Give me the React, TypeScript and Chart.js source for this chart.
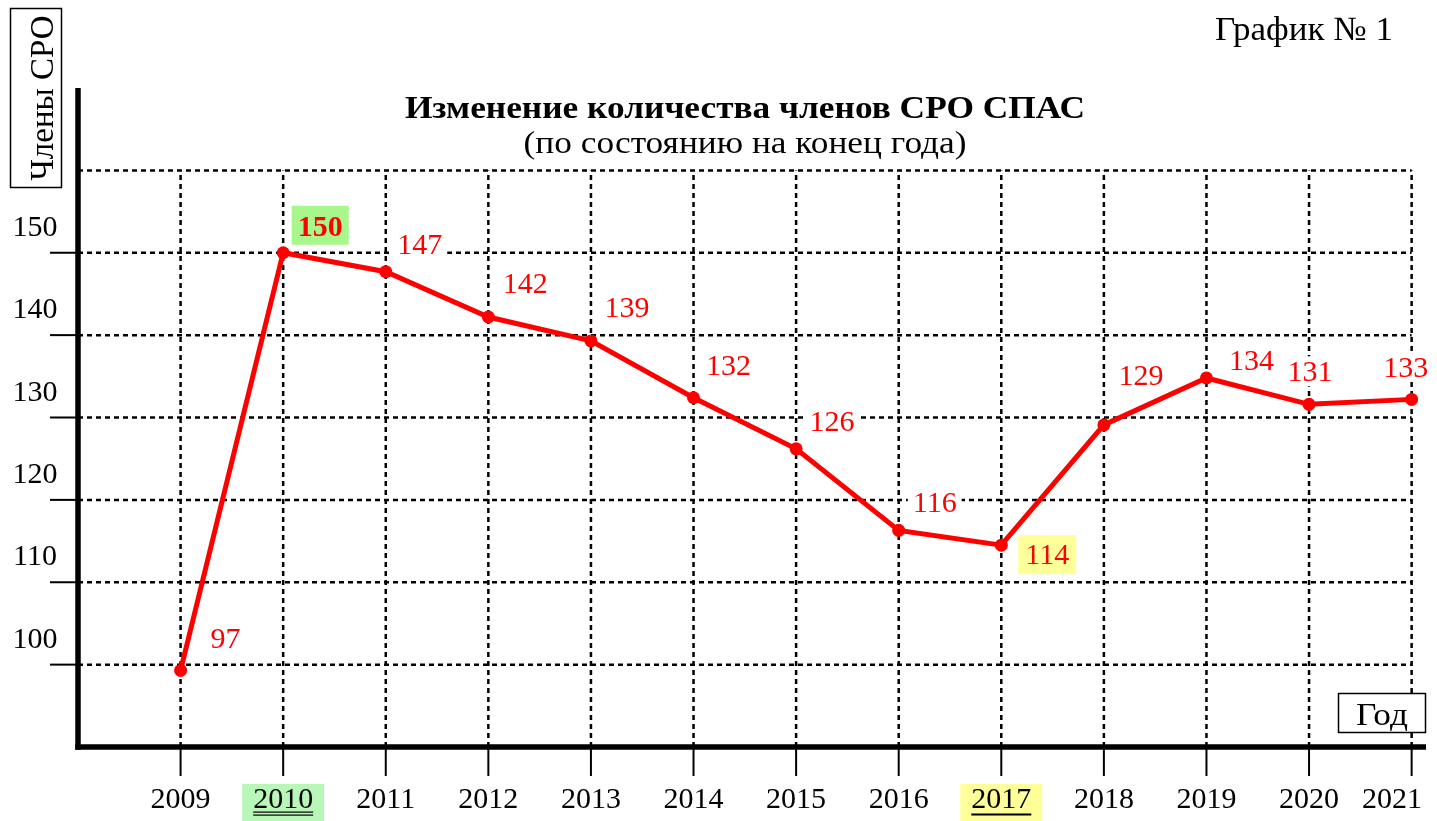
import React, { useEffect, useRef } from "react";
import { Chart, registerables } from "chart.js";

Chart.register(...registerables);

// ---------- data ----------
const years = [2009, 2010, 2011, 2012, 2013, 2014, 2015, 2016, 2017, 2018, 2019, 2020, 2021];
// positions of the points as drawn in the picture (y units)
const plottedValues = [99.3, 150.0, 147.7, 142.2, 139.3, 132.4, 126.2, 116.3, 114.5, 129.1, 134.8, 131.6, 132.2];
// numbers written next to the points
const labelValues = [97, 150, 147, 142, 139, 132, 126, 116, 114, 129, 134, 131, 133];
const yTickLabels = [100, 110, 120, 130, 140, 150];
const gridValues = [100, 110, 120, 130, 140, 150, 160];
const yearLabels = years.map(String);

const highlightGreenYear = 2010;
const highlightYellowYear = 2017;

// label placement relative to point (px)
const labelOffsets: [number, number][] = [
  [45, -33], [37, -27], [34, -28], [37, -34], [36, -34], [35, -33], [36, -28],
  [36, -28], [46, 9], [37, -50], [45, -18], [1, -33], [-6, -33],
];

const FONT = "'Liberation Serif', 'Times New Roman', serif";
const RED = "#ff0000";
const GREEN_LABEL = "#a8f78c";
const GREEN_TICK = "#b8f7b8";
const YELLOW = "#ffff99";
const CYR_STRETCH = 1.14;

function line(ctx: CanvasRenderingContext2D, x1: number, y1: number, x2: number, y2: number) {
  ctx.beginPath();
  ctx.moveTo(x1, y1);
  ctx.lineTo(x2, y2);
  ctx.stroke();
}

function stretchedText(ctx: CanvasRenderingContext2D, txt: string, x: number, y: number, sx: number) {
  ctx.save();
  ctx.translate(x, y);
  ctx.scale(sx, 1);
  ctx.fillText(txt, 0, 0);
  ctx.restore();
}

const decorPlugin = {
  id: "decor",
  beforeDatasetsDraw(chart: any) {
    const ctx: CanvasRenderingContext2D = chart.ctx;
    const x = chart.scales.x;
    const y = chart.scales.y;
    const area = chart.chartArea;
    const x0 = x.getPixelForValue(2008);
    const x1 = x.getPixelForValue(years[years.length - 1]);
    const yb = y.getPixelForValue(90);
    const yt = y.getPixelForValue(gridValues[gridValues.length - 1]);
    ctx.save();

    // dotted grid
    ctx.strokeStyle = "#000";
    ctx.lineWidth = 2.5;
    ctx.setLineDash([5, 4]);
    for (const v of gridValues) {
      const py = y.getPixelForValue(v);
      line(ctx, x0, py, x1, py);
    }
    for (const yr of years) {
      const px = x.getPixelForValue(yr);
      line(ctx, px, yb, px, yt);
    }
    ctx.setLineDash([]);

    // tick marks
    ctx.lineWidth = 2;
    for (const v of yTickLabels) {
      const py = y.getPixelForValue(v);
      line(ctx, x0 - 28, py, x0, py);
    }
    for (const yr of years) {
      const px = x.getPixelForValue(yr);
      line(ctx, px, yb, px, yb + 29);
    }

    // axes
    ctx.lineWidth = 5.5;
    line(ctx, x0, area.top, x0, yb + 2.75);
    line(ctx, x0 - 2.75, yb, area.right, yb);

    // y tick labels
    ctx.fillStyle = "#000";
    ctx.font = `30px ${FONT}`;
    ctx.textAlign = "center";
    ctx.textBaseline = "alphabetic";
    for (const v of yTickLabels) {
      const py = y.getPixelForValue(v);
      ctx.fillText(String(v), 35, py - 17);
    }

    // x tick labels
    years.forEach((yr, i) => {
      const txt = yearLabels[i];
      ctx.font = `30px ${FONT}`;
      const w = ctx.measureText(txt).width;
      const px = Math.min(x.getPixelForValue(yr), chart.width - w / 2 - 15);
      if (yr === highlightGreenYear || yr === highlightYellowYear) {
        ctx.fillStyle = yr === highlightGreenYear ? GREEN_TICK : YELLOW;
        ctx.fillRect(px - w / 2 - 11, 784, w + 22, 37);
      }
      ctx.fillStyle = "#000";
      ctx.fillText(txt, px, 808);
      if (yr === highlightGreenYear) {
        ctx.fillRect(px - w / 2, 811.5, w, 1.2);
        ctx.fillRect(px - w / 2, 814.5, w, 1.2);
      } else if (yr === highlightYellowYear) {
        ctx.fillRect(px - w / 2, 813.5, w, 2);
      }
    });

    // titles
    ctx.fillStyle = "#000";
    ctx.textAlign = "center";
    ctx.font = `bold 31px ${FONT}`;
    stretchedText(ctx, "Изменение количества членов СРО СПАС", 745, 118, CYR_STRETCH);
    ctx.font = `31px ${FONT}`;
    stretchedText(ctx, "(по состоянию на конец года)", 745, 153, CYR_STRETCH);

    // graph number
    ctx.font = `34px ${FONT}`;
    ctx.textAlign = "right";
    stretchedText(ctx, "График № 1", 1393, 40, 1.03);

    // y-axis title box
    ctx.lineWidth = 1.5;
    ctx.strokeRect(10.5, 8.5, 51, 179);
    ctx.save();
    ctx.translate(53, 98);
    ctx.rotate(-Math.PI / 2);
    ctx.textAlign = "center";
    ctx.font = `33px ${FONT}`;
    ctx.fillText("Члены СРО", 0, 0);
    ctx.restore();

    // x-axis title box
    ctx.lineWidth = 1.5;
    ctx.fillStyle = "#fff";
    ctx.fillRect(1338, 693, 88, 40);
    ctx.strokeRect(1338.5, 693.5, 87, 39);
    ctx.fillStyle = "#000";
    ctx.textAlign = "center";
    ctx.font = `31px ${FONT}`;
    stretchedText(ctx, "Год", 1382, 725, CYR_STRETCH);

    ctx.restore();
  },
  afterDatasetsDraw(chart: any) {
    const ctx: CanvasRenderingContext2D = chart.ctx;
    const meta = chart.getDatasetMeta(0);
    ctx.save();
    ctx.textAlign = "center";
    ctx.textBaseline = "alphabetic";
    const size = 30;
    meta.data.forEach((pt: any, i: number) => {
      const yr = years[i];
      const txt = String(labelValues[i]);
      const cx = pt.x + labelOffsets[i][0];
      const cy = pt.y + labelOffsets[i][1];
      const bold = yr === highlightGreenYear;
      ctx.font = `${bold ? "bold " : ""}${size}px ${FONT}`;
      const w = ctx.measureText(txt).width;
      if (yr === highlightGreenYear) {
        ctx.fillStyle = GREEN_LABEL;
        ctx.fillRect(cx - w / 2 - 6, cy - 20, w + 12, 39);
      } else if (yr === highlightYellowYear) {
        ctx.fillStyle = YELLOW;
        ctx.fillRect(cx - w / 2 - 7, cy - 19, w + 14, 39);
      } else {
        ctx.fillStyle = "#fff";
        ctx.fillRect(cx - w / 2 - 5, cy - 15, w + 10, 30);
      }
      ctx.fillStyle = RED;
      ctx.fillText(txt, cx, cy + 0.338 * size);
    });
    ctx.restore();
  },
};

export default function App() {
  const canvasRef = useRef<HTMLCanvasElement | null>(null);

  useEffect(() => {
    if (!canvasRef.current) return;
    const chart = new Chart(canvasRef.current, {
      type: "line",
      data: {
        datasets: [
          {
            data: years.map((yr, i) => ({ x: yr, y: plottedValues[i] })),
            borderColor: RED,
            backgroundColor: RED,
            borderWidth: 5,
            pointRadius: 6.5,
            pointBackgroundColor: RED,
            pointBorderWidth: 0,
            tension: 0,
            clip: false as any,
          },
        ],
      },
      options: {
        animation: false,
        responsive: false,
        layout: { padding: { left: 78, top: 88, right: 11, bottom: 74 } },
        scales: {
          x: { type: "linear", min: 2008, max: 2021.14, display: false },
          y: { type: "linear", min: 90, max: 170, display: false },
        },
        plugins: { legend: { display: false }, tooltip: { enabled: false }, title: { display: false } },
        events: [],
      },
      plugins: [decorPlugin],
    });
    return () => chart.destroy();
  }, []);

  return (
    <div style={{ position: "fixed", left: 0, top: 0, width: 1437, height: 821, background: "#fff" }}>
      <canvas ref={canvasRef} width={1437} height={821} style={{ display: "block" }} />
    </div>
  );
}
